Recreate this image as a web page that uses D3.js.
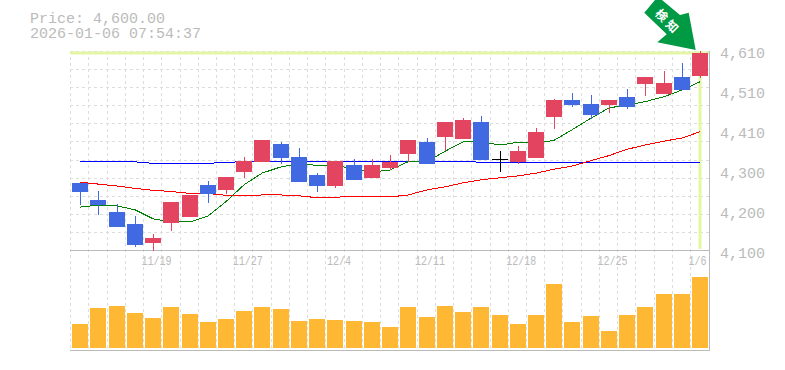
<!DOCTYPE html>
<html>
  <head>
    <meta charset="utf-8">
    <title>Price chart</title>
    <script src="https://d3js.org/d3.v7.min.js"></script>
    <style>
      html, body { margin: 0; padding: 0; background: #fff; overflow: hidden; }
      text { font-family: "Liberation Mono", monospace; fill: #bbb; }
    </style>
  </head>
  <body>
    <div id="chart"></div>
    <script>
      var dates = ["11/13","11/14","11/17","11/18","11/19","11/20","11/21","11/25","11/26","11/27","11/28","12/1","12/2","12/3","12/4","12/5","12/8","12/9","12/10","12/11","12/12","12/15","12/16","12/17","12/18","12/19","12/22","12/23","12/24","12/25","12/26","12/29","12/30","1/5","1/6"];
      var opens = [4267,4223,4193,4162,4113,4164,4180,4262,4249,4295,4321,4367,4333,4287,4259,4313,4280,4305,4341,4372,4385,4380,4423,4327,4321,4331,4436,4480,4469,4467,4487,4521,4495,4538,4541];
      var closes = [4244,4210,4154,4108,4126,4218,4236,4239,4282,4323,4377,4331,4269,4259,4323,4275,4313,4321,4377,4316,4423,4428,4326,4327,4349,4398,4480,4467,4441,4480,4462,4538,4523,4505,4600];
      var highs = [4267,4246,4213,4182,4136,4218,4236,4272,4282,4333,4377,4372,4357,4292,4323,4328,4328,4339,4377,4382,4423,4433,4439,4349,4362,4408,4482,4497,4492,4480,4508,4538,4554,4574,4605];
      var lows = [4210,4185,4154,4103,4093,4144,4180,4216,4239,4280,4321,4316,4269,4244,4254,4275,4280,4300,4321,4316,4349,4380,4326,4295,4316,4331,4405,4462,4431,4446,4456,4490,4495,4505,4536];
      var volume = [24,40,42,35,30,41,34,26,29,37,41,39,27,29,28,27,26,21,41,31,42,36,41,33,24,33,64,26,32,17,33,41,54,54,71];
      var maShort = [4205,4210,4208,4198,4175,4167,4167,4182,4219,4262,4292,4308,4316,4312,4313,4302,4295,4300,4321,4321,4348,4372,4372,4364,4371,4369,4376,4403,4433,4459,4467,4475,4488,4505,4526];
      var maMid = [4269,4264,4259,4253,4248,4245,4240,4240,4235,4235,4236,4236,4234,4229,4230,4233,4231,4231,4236,4249,4257,4267,4275,4280,4285,4292,4302,4310,4324,4337,4353,4364,4374,4382,4398];
      var maLong = [4322,4321,4321,4321,4317,4317,4317,4317,4320,4321,4322,4322,4322,4322,4322,4322,4322,4322,4322,4322,4322,4322,4320,4320,4318,4318,4320,4320,4320,4320,4320,4320,4320,4320,4320];
      var priceLabels = ["4,610","4,510","4,410","4,300","4,200","4,100"];
      var dateLabels = ["11/19","11/27","12/4","12/11","12/18","12/25","1/6"];
      var lastPrice = 4600;

      var width = 785;
      var height = 370;
      var plotLeft = 70, plotRight = 710, plotTop = 51, plotBottom = 250, volBottom = 350;

      var svg = d3.select("#chart").append("svg")
        .attr("width", width)
        .attr("height", height)
        .style("display", "block");

      var x = d3.scaleBand().domain(dates).range([71, 709.2]).paddingInner(0.1226).paddingOuter(0.0613);
      var y = d3.scaleLinear().domain([4095, 4605]).range([plotBottom, plotTop]);
      var yVol = d3.scaleLinear().domain([0, 71]).range([348, 277]);
      var yLabel = d3.scalePoint().domain(priceLabels).range([53, 253]);

      var barX = (d) => Math.round(x(d));
      var midX = (d) => barX(d) + 8;

      // grid
      var grid = svg.append("g")
        .attr("stroke", "#ddd")
        .attr("stroke-dasharray", "3,3")
        .attr("shape-rendering", "crispEdges");
      grid.selectAll("line.h")
        .data(d3.range(11))
        .enter().append("line")
        .attr("class", "h")
        .attr("x1", plotLeft).attr("x2", plotRight)
        .attr("y1", (d) => Math.round(plotTop + d * (plotBottom - plotTop) / 11) + 0.5)
        .attr("y2", (d) => Math.round(plotTop + d * (plotBottom - plotTop) / 11) + 0.5);
      grid.selectAll("line.v")
        .data(dates)
        .enter().append("line")
        .attr("class", "v")
        .attr("x1", (d) => barX(d) - 1.5).attr("x2", (d) => barX(d) - 1.5)
        .attr("y1", plotTop).attr("y2", volBottom);

      // current price marker
      svg.append("line")
        .attr("x1", plotLeft).attr("x2", plotRight - 1)
        .attr("y1", y(lastPrice)).attr("y2", y(lastPrice))
        .attr("stroke", "#e3f6a3").attr("stroke-width", 3);
      svg.append("line")
        .attr("x1", midX("1/6")).attr("x2", midX("1/6"))
        .attr("y1", y(lastPrice)).attr("y2", 249)
        .attr("stroke", "#e3f6a3").attr("stroke-width", 3);

      // frame
      var frame = svg.append("g").attr("stroke", "#bbb").attr("shape-rendering", "crispEdges");
      frame.append("line").attr("x1", plotLeft).attr("x2", plotRight).attr("y1", plotBottom + 0.5).attr("y2", plotBottom + 0.5);
      frame.append("line").attr("x1", plotLeft).attr("x2", plotRight).attr("y1", volBottom + 0.5).attr("y2", volBottom + 0.5);
      frame.append("line").attr("x1", plotRight - 0.5).attr("x2", plotRight - 0.5).attr("y1", plotTop).attr("y2", volBottom + 1);

      // volume
      svg.append("g").selectAll("rect")
        .data(dates)
        .enter().append("rect")
        .attr("x", (d) => barX(d))
        .attr("y", (d, i) => yVol(volume[i]))
        .attr("width", 16)
        .attr("height", (d, i) => 348 - yVol(volume[i]))
        .attr("fill", "#ffb833")
        .attr("shape-rendering", "crispEdges");

      // moving averages
      var ma = d3.line()
        .x((d, i) => midX(dates[i]))
        .y((d) => y(d));
      [[maLong, "#0000ff"], [maMid, "#ff0000"], [maShort, "#008000"]].forEach(function (m) {
        svg.append("path")
          .attr("d", ma(m[0]))
          .attr("fill", "none")
          .attr("stroke", m[1])
          .attr("stroke-width", 1)
          .attr("shape-rendering", "crispEdges");
      });

      // candles
      var candleColor = function (i) {
        if (opens[i] === closes[i]) return "#000";
        return closes[i] > opens[i] ? "#e34561" : "#4169e1";
      };
      var candles = svg.append("g").attr("shape-rendering", "crispEdges");
      candles.selectAll("line")
        .data(dates)
        .enter().append("line")
        .attr("x1", (d) => midX(d)).attr("x2", (d) => midX(d))
        .attr("y1", (d, i) => y(highs[i])).attr("y2", (d, i) => y(lows[i]))
        .attr("stroke", (d, i) => candleColor(i));
      candles.selectAll("rect")
        .data(dates)
        .enter().append("rect")
        .attr("x", (d) => barX(d))
        .attr("y", (d, i) => y(Math.max(opens[i], closes[i])))
        .attr("width", 16)
        .attr("height", (d, i) => Math.max(1, y(Math.min(opens[i], closes[i])) - y(Math.max(opens[i], closes[i]))))
        .attr("fill", (d, i) => candleColor(i));

      // axes
      var yAxis = svg.append("g")
        .attr("transform", "translate(720,0)")
        .call(d3.axisRight(yLabel).tickSize(0).tickPadding(0));
      yAxis.select(".domain").remove();
      yAxis.attr("font-family", null).attr("font-size", null);
      yAxis.selectAll("text").attr("font-size", "15px");

      var xAxis = svg.append("g")
        .attr("transform", "translate(0,256)")
        .call(d3.axisBottom(d3.scalePoint().domain(dates).range([x(dates[0]) + 8, x("1/6") + 8])).tickValues(dateLabels).tickSize(0).tickPadding(0));
      xAxis.select(".domain").remove();
      xAxis.attr("font-family", null).attr("font-size", null);
      xAxis.selectAll("text")
        .attr("font-size", "13px")
        .attr("dx", (d) => (d === "1/6" ? -3 : 3))
        .attr("textLength", (d) => d.length * 6)
        .attr("lengthAdjust", "spacingAndGlyphs");

      // header
      svg.append("text").text("Price: 4,600.00").attr("x", 30).attr("y", 23).attr("font-size", "15px");
      svg.append("text").text("2026-01-06 07:54:37").attr("x", 30).attr("y", 38).attr("font-size", "15px");

      // arrow
      svg.append("polygon")
        .attr("points", "644.3,12.7 655,0 662,0 680,15 688.7,12.7 695.7,50 657.3,42.3 666.7,34.3")
        .attr("fill", "#009944");
      svg.append("text").text("検")
        .attr("transform", "translate(661.5,15.5) rotate(45)")
        .attr("text-anchor", "middle").attr("dy", "0.36em")
        .attr("font-size", "12px").attr("font-weight", "bold")
        .style("font-family", "'Noto Sans CJK JP'").style("fill", "#fff");
      svg.append("text").text("知")
        .attr("transform", "translate(672,26.5) rotate(45)")
        .attr("text-anchor", "middle").attr("dy", "0.36em")
        .attr("font-size", "12px").attr("font-weight", "bold")
        .style("font-family", "'Noto Sans CJK JP'").style("fill", "#fff");
    </script>
  </body>
</html>
